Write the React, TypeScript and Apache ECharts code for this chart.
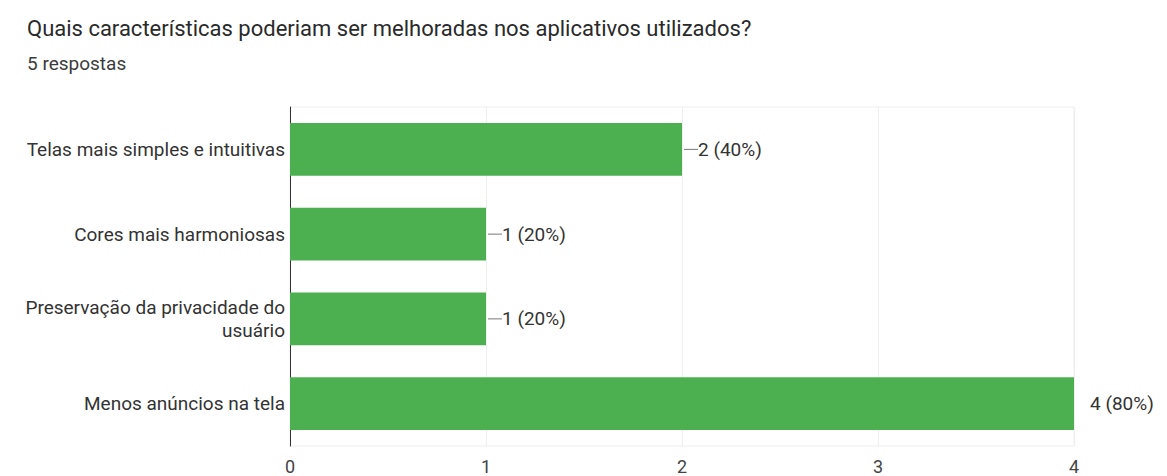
import React, { useEffect, useRef } from "react";
import * as echarts from "echarts";

const categories = [
  "Telas mais simples e intuitivas",
  "Cores mais harmoniosas",
  "Preservação da privacidade do\nusuário",
  "Menos anúncios na tela",
];
const values = [2, 1, 1, 4];
const percents = ["40%", "20%", "20%", "80%"];
const xTicks = [0, 1, 2, 3, 4];
const title = "Quais características poderiam ser melhoradas nos aplicativos utilizados?";
const subtitle = "5 respostas";

export default function App() {
  const ref = useRef<HTMLDivElement>(null);
  useEffect(() => {
    const chart = echarts.init(ref.current!, null, { renderer: "svg" });
    const maxV = xTicks[xTicks.length - 1];
    chart.setOption({
      animation: false,
      backgroundColor: "#ffffff",
      title: {
        text: title,
        subtext: subtitle,
        left: 22,
        top: 12,
        itemGap: 15,
        textStyle: { fontFamily: "Roboto", fontSize: 22, fontWeight: "normal", color: "#2a2a2a" },
        subtextStyle: { fontFamily: "Roboto", fontSize: 19, color: "#3c3c3c" },
      },
      grid: { left: 290, right: 93, top: 107, bottom: 30, containLabel: false, show: true, borderColor: "#eeeeee", borderWidth: 1 },
      xAxis: {
        type: "value",
        min: 0,
        max: maxV,
        interval: 1,
        axisLine: { show: false },
        axisTick: { show: false },
        axisLabel: { fontFamily: "Roboto", fontSize: 18, color: "#444", margin: 11 },
        splitLine: { show: true, lineStyle: { color: "#eeeeee", width: 1 } },
      },
      yAxis: {
        type: "category",
        data: categories,
        inverse: true,
        axisLine: { show: true, lineStyle: { color: "#333", width: 1 } },
        axisTick: { show: false },
        axisLabel: { fontFamily: "Roboto", fontSize: 19, color: "#333", margin: 5, lineHeight: 23, align: "right" },
        splitLine: { show: false },
      },
      series: [
        {
          type: "bar",
          barCategoryGap: "38%",
          itemStyle: { color: "#4caf50" },
          data: values.map((v, i) => ({
            value: v,
            label:
              v === maxV
                ? { formatter: `${v} (${percents[i]})`, distance: 16 }
                : { formatter: `{ln|}${v} (${percents[i]})`, distance: 2 },
          })),
          label: {
            show: true,
            position: "right",
            fontFamily: "Roboto",
            fontSize: 19,
            color: "#333",
            rich: {
              ln: { width: 14, height: 1, backgroundColor: "#777", padding: 0 },
            },
          },
        },
      ],
    });
    return () => chart.dispose();
  }, []);
  return <div ref={ref} style={{ width: 1167, height: 476, position: "absolute", left: 0, top: 0 }} />;
}
